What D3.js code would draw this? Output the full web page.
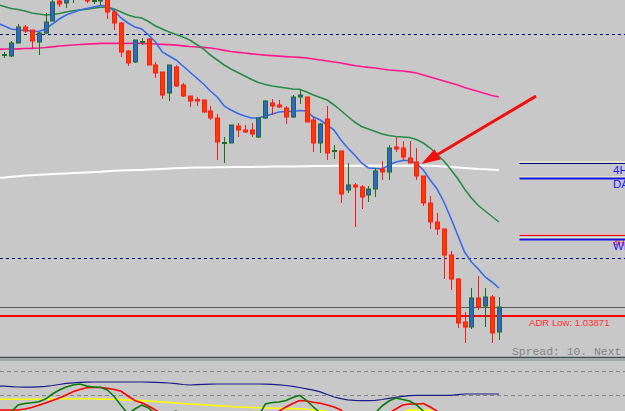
<!DOCTYPE html>
<html>
<head>
<meta charset="utf-8">
<script src="https://cdn.jsdelivr.net/npm/d3@7"></script>
<style>
body {
  margin: 0;
  background-color: #c8c8c8;
  overflow: hidden;
}
svg { display: block; }
</style>
</head>
<body>
<svg id="chart"></svg>
<script>
// candle prices, one entry per bar, oldest first
var opens = [1.06476,1.06471,1.06601,1.06761,1.06731,1.06611,1.06701,1.06821,1.07021,1.07001,
  1.07051,1.07111,1.07061,1.07016,1.07021,1.07081,1.06911,1.06801,1.06521,1.06411,
  1.06606,1.06641,1.06381,1.06311,1.06101,1.06361,1.06181,1.06071,1.06036,1.06031,
  1.05921,1.05851,1.05596,1.05601,1.05771,1.05731,1.05731,1.05661,1.05851,1.06001,
  1.05981,1.05951,1.05861,1.06061,1.06061,1.05831,1.05601,1.05841,1.05516,1.05521,
  1.05131,1.05181,1.05161,1.05081,1.05141,1.05341,1.05311,1.05561,1.05551,1.05451,
  1.05411,1.05271,1.05001,1.04811,1.04741,1.04481,1.04241,1.03811,1.03761,1.04051,
  1.03971,1.04061,1.03711];
var highs = [1.06511,1.06621,1.06791,1.06781,1.06731,1.06711,1.06901,1.07051,1.07051,1.07091,
  1.07121,1.07131,1.07081,1.07051,1.07081,1.07101,1.06931,1.06811,1.06531,1.06631,
  1.06651,1.06651,1.06411,1.06311,1.06381,1.06381,1.06201,1.06071,1.06061,1.06031,
  1.05971,1.05891,1.05661,1.05781,1.05801,1.05781,1.05801,1.05851,1.06031,1.06041,
  1.06031,1.05971,1.06081,1.06131,1.06061,1.05861,1.05801,1.05971,1.05581,1.05521,
  1.05401,1.05201,1.05181,1.05171,1.05351,1.05421,1.05581,1.05661,1.05621,1.05621,
  1.05551,1.05271,1.05071,1.04901,1.04741,1.04521,1.04251,1.03911,1.04151,1.04271,
  1.04151,1.04081,1.04061];
var lows = [1.06451,1.06461,1.06601,1.06701,1.06551,1.06481,1.06691,1.06821,1.06961,1.06951,
  1.07001,1.07041,1.07001,1.06991,1.06981,1.06841,1.06731,1.06461,1.06371,1.06401,
  1.06581,1.06381,1.06251,1.06041,1.06021,1.06161,1.06061,1.05961,1.05971,1.05901,
  1.05831,1.05431,1.05401,1.05601,1.05661,1.05701,1.05661,1.05651,1.05841,1.05881,
  1.05951,1.05791,1.05851,1.05991,1.05811,1.05511,1.05501,1.05431,1.05441,1.05001,
  1.05101,1.04761,1.04941,1.05011,1.05061,1.05231,1.05231,1.05511,1.05431,1.05401,
  1.05231,1.04971,1.04741,1.04681,1.04241,1.04131,1.03751,1.03601,1.03741,1.03931,
  1.03761,1.03601,1.03631];
var closes = [1.06486,1.06601,1.06761,1.06721,1.06621,1.06701,1.06811,1.07011,1.06991,1.07061,
  1.07091,1.07071,1.07021,1.07026,1.07051,1.06911,1.06801,1.06511,1.06401,1.06631,
  1.06616,1.06381,1.06301,1.06081,1.06381,1.06171,1.06071,1.06021,1.06021,1.05911,
  1.05851,1.05611,1.05606,1.05781,1.05731,1.05711,1.05691,1.05851,1.06021,1.05971,
  1.05961,1.05861,1.06061,1.06081,1.05811,1.05601,1.05791,1.05501,1.05526,1.05091,
  1.05181,1.05161,1.05061,1.05141,1.05321,1.05311,1.05551,1.05541,1.05461,1.05401,
  1.05271,1.05001,1.04811,1.04741,1.04481,1.04241,1.03801,1.03761,1.04051,1.03961,
  1.04061,1.03701,1.03961];

// moving averages; the first value belongs to the bar just left of the window
var maFast = [1.06801,1.06771,1.06741,1.06731,1.06726,1.06721,1.06716,1.06741,1.06791,1.06841,1.06881,
  1.06906,1.06931,1.06946,1.06961,1.06976,1.06971,1.06921,1.06851,1.06801,1.06761,
  1.06741,1.06681,1.06611,1.06511,1.06471,1.06431,1.06371,1.06311,1.06251,1.06191,
  1.06121,1.06061,1.05971,1.05931,1.05896,1.05871,1.05851,1.05851,1.05871,1.05891,
  1.05911,1.05916,1.05916,1.05926,1.05921,1.05861,1.05831,1.05781,1.05731,1.05631,
  1.05551,1.05481,1.05401,1.05351,1.05346,1.05341,1.05381,1.05411,1.05426,1.05426,
  1.05396,1.05331,1.05231,1.05141,1.05011,1.04851,1.04681,1.04511,1.04411,1.04341,
  1.04261,1.04211,1.04151];
var maMid = [1.06986,1.06966,1.06946,1.06936,1.06921,1.06901,1.06891,1.06881,1.06886,1.06896,1.06911,
  1.06924,1.06931,1.06938,1.06948,1.06958,1.06958,1.06941,1.06911,1.06881,1.06861,
  1.06851,1.06816,1.06771,1.06741,1.06711,1.06686,1.06661,1.06631,1.06586,1.06541,
  1.06481,1.06431,1.06381,1.06341,1.06306,1.06271,1.06236,1.06206,1.06186,1.06171,
  1.06161,1.06151,1.06141,1.06138,1.06111,1.06081,1.06056,1.06031,1.05981,1.05926,
  1.05866,1.05811,1.05766,1.05741,1.05716,1.05691,1.05676,1.05666,1.05661,1.05656,
  1.05636,1.05601,1.05551,1.05486,1.05421,1.05336,1.05246,1.05141,1.05051,1.04976,
  1.04921,1.04866,1.04811];
var maSlow = [1.06539,1.06541,1.06541,1.06543,1.06546,1.06548,1.06551,1.06556,1.06563,1.06571,1.06576,
  1.06581,1.06586,1.06589,1.06593,1.06597,1.06598,1.06598,1.06598,1.06598,1.06598,
  1.06597,1.06595,1.06591,1.06588,1.06585,1.06579,1.06573,1.06566,1.06561,1.06557,
  1.06551,1.06541,1.06528,1.06516,1.06508,1.06501,1.06493,1.06486,1.06479,1.06474,
  1.06469,1.06465,1.06461,1.06458,1.06451,1.06441,1.06431,1.06421,1.06411,1.06401,
  1.06388,1.06376,1.06366,1.06358,1.06351,1.06341,1.06331,1.06326,1.06321,1.06313,
  1.06301,1.06281,1.06261,1.06241,1.06221,1.06201,1.06181,1.06156,1.06136,1.06116,
  1.06096,1.06076,1.06061];
var maLong = [1.05252,1.05256,1.05264,1.05269,1.05276,1.05279,1.05283,1.05287,1.05290,1.05293,1.05297,
  1.05301,1.05303,1.05306,1.05310,1.05313,1.05318,1.05323,1.05326,1.05328,1.05330,
  1.05331,1.05335,1.05339,1.05342,1.05345,1.05348,1.05351,1.05353,1.05355,1.05356,
  1.05357,1.05358,1.05359,1.05360,1.05361,1.05362,1.05362,1.05363,1.05364,1.05365,
  1.05366,1.05366,1.05367,1.05368,1.05369,1.05370,1.05371,1.05372,1.05373,1.05374,
  1.05374,1.05374,1.05374,1.05374,1.05374,1.05374,1.05374,1.05374,1.05374,1.05374,
  1.05374,1.05374,1.05373,1.05371,1.05367,1.05361,1.05356,1.05351,1.05346,1.05341,
  1.05338,1.05334,1.05331];

// horizontal levels
var dashLevels = [1.06691, 1.04451];
var adrLow = 1.03871;
var sideNames = ["4H", "DA", "4H", "WE"];
var sidePrices = [1.05398, 1.05256, 1.04681, 1.04641];
var sideColors = ["#000080", "#1414e0", "#e00000", "#1414e0"];
var sideText = ["#1a1aff", "#1a1aff", "#ff2020", "#1a1aff"];

// oscillator window, first value again for the bar left of the window
var oscNavy = [45,44.7,44,43.3,43,43,43.7,44.5,45.8,47.5,49.3,50.3,51,51.5,
  51.7,51.7,51.7,51.7,51.7,51.7,51.7,51.7,
  51.3,51,50.7,50,48.8,47.5,46.7,47.3,47.8,48.2,
  48.3,48.3,48.3,48.3,48.3,48.3,48.3,
  48,47.7,47,45.8,44.3,42.5,40.3,38,35.3,30.8,26.7,24,22,21.2,20.7,20.5,21.2,22.5,24.3,26,27.7,29,29.5,
  29.5,29.5,29.5,29.5,29.5,30.7,31.7,31.7,31.7,31.7,31.7,31.7];
var oscGreen = [-8.3,-8.3,1.7,13.3,15.8,17,18.7,23.3,31.7,38.3,43.3,46.7,48.3,45,42.8,42.8,38.3,27.5,12.5,-1.7,6.7,
  13.3,8.3,-1.7,-5,0,3.3,-3.3,
  -8.3,-8.3,-8.3,-8.3,-8.3,-8.3,-8.3,-8.3,-8.3,-8.3,
  -5,15,17.5,18.3,20.8,25.8,29.5,20.8,10,0,
  -8.3,-8.3,-8.3,-8.3,-8.3,-8.3,-8.3,
  0,11.7,20,25,22.5,20,13.3,3.3,
  -8.3,-8.3,-8.3,-8.3,-8.3,-8.3,-8.3,-8.3,-8.3,-8.3,-8.3];
var oscRed = [5,5,5,5,6.7,9.2,12.8,16.7,20.8,25,30,35.5,39.2,42,42.8,42.5,41.3,39.2,36.2,28.3,20.8,17.2,11.7,5,-1.7,
  -8.3,-8.3,-8.3,-8.3,-8.3,-8.3,-8.3,-8.3,-8.3,-8.3,-8.3,-8.3,-8.3,-8.3,-8.3,-8.3,
  3.3,10,15.8,20.8,20,17.8,16.2,13.3,10,5,
  -8.3,-8.3,-8.3,-8.3,-8.3,-8.3,
  0,6.7,13.3,15,15,15.8,10,3.3,
  -8.3,-8.3,-8.3,-8.3,-8.3,-8.3,-8.3,-8.3,-8.3];
var oscYellow = [22.8,22.8,22.8,22.8,22.8,22.8,22.8,22.8,23.7,23.7,23.7,23.7,23.7,23.7,23.7,23,23,23,
  22.3,21.7,21.2,20.7,20,19.2,18.3,17.5,16.7,15.8,15,14.3,13.7,13,12.3,11.7,10.8,10,9.5,9.2,8.8,8.3,8,7.7,7.5,7.3,7,6.2,5,4.2,2.5,
  -1.7,-1.7,-1.7,-1.7,-1.7,-1.7,-1.7,-1.7,-1.7,-1.7,
  1.7,5,5,5,4.2,0,
  -5,-5,-5,-5,-5,-5,-5,-5,-5];
var oscLevels = [70, 30];

// hand-drawn arrow, in bar index / price
var arrowFrom = [77.4, 1.0607];
var arrowTo = [60.7, 1.0539];

const width = 625;
const height = 411;
var svg = d3.select("#chart").attr("width", width).attr("height", height);
svg.append("rect").attr("width", width).attr("height", height).attr("fill", "#c8c8c8");

var defs = svg.append("defs");
defs.append("clipPath").attr("id", "clipMain")
  .append("rect").attr("x", 0).attr("y", 0).attr("width", width).attr("height", 356);
defs.append("clipPath").attr("id", "clipSub")
  .append("rect").attr("x", 0).attr("y", 361).attr("width", width).attr("height", 50);

var xscale = d3.scaleLinear().domain([0, 72]).range([4.3, 498.9]);
var yscale = d3.scaleLinear().domain([1.07031, 1.03871]).range([0, 316]);
var oscscale = d3.scaleLinear().domain([0, 100]).range([413, 353]);
var py = (p) => Math.round(yscale(p)) + 0.5;

var main = svg.append("g").attr("clip-path", "url(#clipMain)");

main.selectAll("line.dash")
  .data(dashLevels)
  .enter()
  .append("line")
  .attr("x1", 0).attr("x2", width)
  .attr("y1", py).attr("y2", py)
  .attr("stroke", "#000080")
  .attr("stroke-dasharray", "3,3");

// bid line at last close
main.append("line")
  .attr("x1", 0).attr("x2", width)
  .attr("y1", py(closes[closes.length - 1])).attr("y2", py(closes[closes.length - 1]))
  .attr("stroke", "#585858");

main.append("line")
  .attr("x1", 0).attr("x2", width)
  .attr("y1", yscale(adrLow)).attr("y2", yscale(adrLow))
  .attr("stroke", "#ff0000").attr("stroke-width", 2);

main.append("text")
  .attr("x", 529).attr("y", yscale(adrLow) + 9.5)
  .attr("fill", "#ff3030")
  .attr("font-family", "Liberation Sans, Arial, sans-serif")
  .attr("font-size", "9.6px")
  .text("ADR Low: " + adrLow.toFixed(5));

// levels on the right
var side = main.selectAll("g.side")
  .data(sidePrices)
  .enter()
  .append("g");
side.append("line")
  .attr("x1", xscale(75)).attr("x2", width)
  .attr("y1", (d) => py(d) - 1.5).attr("y2", (d) => py(d) - 1.5)
  .attr("stroke", (d, i) => i == 2 ? "#f0b0b0" : "#fffbd0");
side.append("line")
  .attr("x1", xscale(75)).attr("x2", width)
  .attr("y1", py).attr("y2", py)
  .attr("stroke", (d, i) => sideColors[i])
  .attr("stroke-width", (d, i) => (i == 1 || i == 3) ? 2 : 1.2);
side.append("text")
  .attr("x", 613)
  .attr("y", (d, i) => yscale(d) + (i == 2 ? 11 : 10.5))
  .attr("fill", (d, i) => sideText[i])
  .attr("font-family", "Liberation Sans, Arial, sans-serif")
  .attr("font-size", (d, i) => i == 2 ? "9px" : "11.5px")
  .text((d, i) => sideNames[i]);

var line = d3.line()
  .x((d, i) => xscale(i - 1))
  .y((d) => yscale(d));

var mas = [
  {values: maLong, color: "#ffffff", w: 2},
  {values: maSlow, color: "#ff1a8c", w: 1.7},
  {values: maMid, color: "#2a8a4a", w: 1.6},
  {values: maFast, color: "#3a6ae8", w: 1.6}
];
main.selectAll("path.ma")
  .data(mas)
  .enter()
  .append("path")
  .attr("fill", "none")
  .attr("stroke", (d) => d.color)
  .attr("stroke-width", (d) => d.w)
  .attr("d", (d) => line(d.values));

// candles
var candles = main.selectAll("g.candle")
  .data(opens)
  .enter()
  .append("g");
candles.append("line")
  .attr("x1", (d, i) => Math.round(xscale(i)) + 0.5)
  .attr("x2", (d, i) => Math.round(xscale(i)) + 0.5)
  .attr("y1", (d, i) => yscale(highs[i]))
  .attr("y2", (d, i) => yscale(lows[i]))
  .attr("stroke", (d, i) => closes[i] >= d ? "#1f6e1f" : "#ff1a1a");
candles.append("rect")
  .attr("x", (d, i) => Math.round(xscale(i)) - 1.5)
  .attr("width", 4)
  .attr("y", (d, i) => yscale(Math.max(d, closes[i])))
  .attr("height", (d, i) => Math.max(1, Math.abs(yscale(d) - yscale(closes[i]))))
  .attr("fill", (d, i) => closes[i] >= d ? "#2f62dc" : "#ff3a00")
  .attr("stroke", (d, i) => closes[i] >= d ? "#1f6e1f" : "#ff1a1a")
  .attr("stroke-width", 1);

// arrow
var ax1 = xscale(arrowFrom[0]), ay1 = yscale(arrowFrom[1]);
var ax2 = xscale(arrowTo[0]), ay2 = yscale(arrowTo[1]);
var len = Math.hypot(ax2 - ax1, ay2 - ay1);
var ux = (ax2 - ax1) / len, uy = (ay2 - ay1) / len;
var bx = ax2 - ux * 19, by = ay2 - uy * 19;
main.append("line")
  .attr("x1", ax1).attr("y1", ay1).attr("x2", bx + ux * 2).attr("y2", by + uy * 2)
  .attr("stroke", "#f01010").attr("stroke-width", 3);
main.append("polygon")
  .attr("points", [[ax2, ay2], [bx - uy * 6, by + ux * 6], [bx + uy * 6, by - ux * 6]].join(" "))
  .attr("fill", "#f01010");

svg.append("text")
  .attr("x", 512).attr("y", 354.5)
  .attr("fill", "#848484")
  .attr("font-family", "Liberation Mono, Courier New, monospace")
  .attr("font-size", "11.4px")
  .text("Spread: 10. Next");

// window separator
svg.append("line").attr("x1", 0).attr("x2", width).attr("y1", 357.5).attr("y2", 357.5)
  .attr("stroke", "#3e4e4e").attr("stroke-width", 1.6);
svg.append("line").attr("x1", 0).attr("x2", width).attr("y1", 360).attr("y2", 360)
  .attr("stroke", "#7a8888").attr("stroke-width", 1);

var sub = svg.append("g").attr("clip-path", "url(#clipSub)");
sub.selectAll("line.lvl")
  .data(oscLevels)
  .enter()
  .append("line")
  .attr("x1", 0).attr("x2", width)
  .attr("y1", (d) => Math.round(oscscale(d)) + 0.5)
  .attr("y2", (d) => Math.round(oscscale(d)) + 0.5)
  .attr("stroke", "#858585")
  .attr("stroke-dasharray", "4,3");

var oscline = d3.line()
  .x((d, i) => xscale(i - 1))
  .y((d) => oscscale(d));
var oscs = [
  {values: oscNavy, color: "#1c1c84", w: 1.2},
  {values: oscYellow, color: "#ffff00", w: 1.6},
  {values: oscRed, color: "#ff0000", w: 1.6},
  {values: oscGreen, color: "#0a7a0a", w: 1.6}
];
sub.selectAll("path.osc")
  .data(oscs)
  .enter()
  .append("path")
  .attr("fill", "none")
  .attr("stroke", (d) => d.color)
  .attr("stroke-width", (d) => d.w)
  .attr("d", (d) => oscline(d.values));
</script>
</body>
</html>
